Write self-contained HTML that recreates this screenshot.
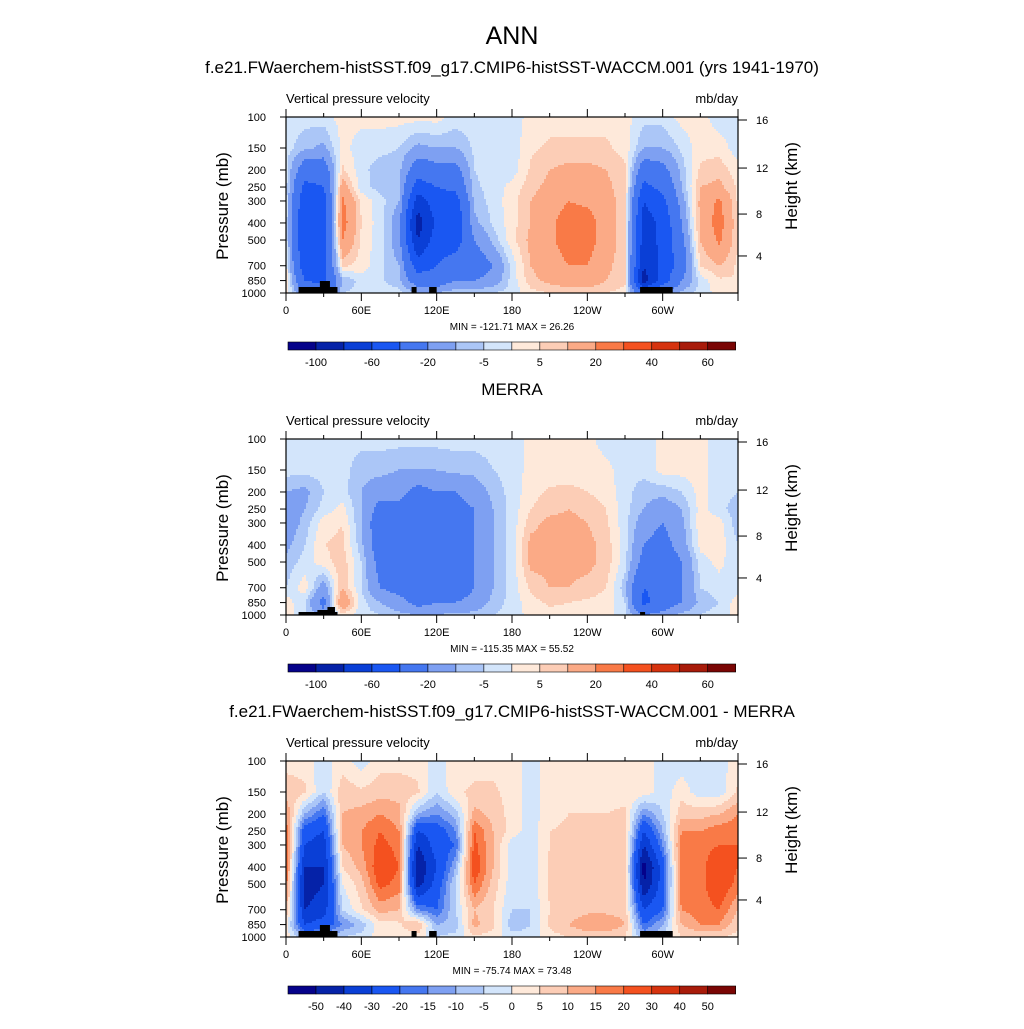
<!DOCTYPE html>
<html><head><meta charset="utf-8">
<style>
body{margin:0;background:#fff;}
svg text{font-family:"Liberation Sans",sans-serif;fill:#000;}
</style></head>
<body>
<svg id="fig" width="1024" height="1024" xmlns="http://www.w3.org/2000/svg">
<rect width="1024" height="1024" fill="#fff"/>
<text x="512" y="44" font-size="25" text-anchor="middle">ANN</text>
</svg>
<script>
// ---- data ----
const lons = [0,15,30,45,60,75,90,105,120,135,150,165,180,195,210,225,240,255,270,285,300,315,330,345,360];
const levels = [100,150,200,250,300,400,500,700,850,1000];
const colors = ["#05028a","#0522a8","#0a3fd6","#1a57f2","#4577f0","#7ea0f2","#abc6f7","#d3e5fb","#fee9da","#fccdb6","#fbaa86","#f97a47","#f4511f","#d6330f","#a81b0a","#7a0504"];
const bounds1 = [-100,-80,-60,-40,-20,-10,-5,0,5,10,20,30,40,50,60];
const bounds3 = [-50,-40,-30,-20,-15,-10,-5,0,5,10,15,20,30,40,50];
const cbLabels1 = ["-100","","-60","","-20","","-5","","5","","20","","40","","60"];
const cbLabels3 = ["-50","-40","-30","-20","-15","-10","-5","0","5","10","15","20","30","40","50"];
const xTickLabels = ["0","60E","120E","180","120W","60W"];
const yTickLabels = ["100","150","200","250","300","400","500","700","850","1000"];
const hTicks = [4,8,12,16];
const hTickPressures = [616,356,195,104];
const model = [
[-3,-3,-2,2,2,2,2,2,2,-2,-3,-3,-3,2,3,3,3,3,2,-3,-3,2,2,-3,-3],
[-3,-8,-12,2,-3,-3,-5,-12,-10,-10,-4,-3,-3,4,6,6,6,6,3,-10,-10,-4,3,3,-3],
[-3,-30,-30,6,-3,-8,-8,-30,-25,-25,-5,-3,-3,6,10,12,12,10,6,-30,-25,-8,6,8,2],
[-3,-45,-40,15,-3,-7,-8,-50,-40,-35,-6,-3,2,8,12,15,14,12,6,-45,-35,-10,10,12,4],
[-2,-55,-50,22,4,-3,-10,-70,-50,-50,-8,-3,3,10,15,20,18,14,6,-60,-45,-15,12,22,4],
[-2,-60,-50,25,5,-3,-15,-90,-55,-55,-12,-4,3,10,18,25,25,15,6,-70,-55,-20,12,25,5],
[-2,-60,-50,20,4,-3,-15,-80,-50,-50,-20,-8,3,12,18,25,25,15,6,-70,-55,-25,10,22,5],
[2,-55,-45,6,3,-4,-10,-50,-40,-30,-30,-20,-3,10,15,20,20,12,6,-80,-55,-30,5,10,4],
[5,-40,-45,-10,-3,-4,-8,-30,-30,-20,-20,-15,-3,8,12,15,15,10,6,-90,-50,-20,-3,4,5],
[3,-20,-30,-5,-3,-3,-3,-10,-10,-5,-5,-5,-3,3,5,6,6,5,3,-40,-20,-8,-3,2,3]];
const merra = [
[-3,-3,-3,-3,-3,-3,-3,-3,-3,-3,-3,-3,-3,2,2,2,2,-3,-3,-3,2,2,2,-3,-3],
[-3,-3,-3,-3,-8,-8,-10,-10,-10,-8,-8,-5,-3,2,2,3,3,2,-3,-3,2,2,2,-3,-3],
[-10,-12,-5,-3,-10,-15,-15,-25,-20,-20,-15,-8,-3,3,6,6,5,3,-3,-8,-8,-5,2,-3,-5],
[-15,-10,-3,2,-10,-25,-25,-30,-20,-25,-20,-10,-3,5,8,10,8,5,-3,-10,-15,-10,2,-3,-8],
[-15,-8,3,5,-10,-30,-30,-25,-20,-25,-20,-10,-3,8,12,12,10,6,-3,-15,-20,-12,3,2,-8],
[-12,-5,5,6,-8,-30,-30,-30,-25,-30,-20,-10,-3,12,12,12,12,8,-3,-20,-25,-15,2,3,-5],
[-8,-3,3,8,-5,-25,-30,-40,-30,-35,-20,-10,-3,12,12,12,12,8,-3,-25,-30,-20,-3,2,-5],
[-5,3,-15,10,-5,-20,-25,-30,-25,-30,-20,-10,-3,6,10,10,8,5,-8,-40,-35,-20,-5,-3,-3],
[3,-5,-25,20,-3,-10,-15,-25,-20,-20,-15,-8,-3,3,6,5,4,3,-5,-45,-30,-20,-8,-5,3],
[2,-3,-15,3,-3,-5,-8,-10,-10,-8,-8,-5,-3,2,3,3,3,2,-3,-20,-15,-8,-5,-3,2]];
const diff = [
[3,3,-3,3,-3,3,3,3,-3,3,3,3,3,-3,3,3,3,3,3,3,-3,-3,-3,-3,3],
[8,6,-5,8,6,8,8,6,-5,4,6,6,3,-3,3,3,3,3,3,3,-3,3,-3,-3,6],
[15,-10,-20,10,12,15,12,-10,-15,-8,12,8,3,-3,3,5,5,5,6,-15,-5,8,8,10,15],
[18,-25,-30,12,15,20,15,-30,-25,-15,20,10,3,-3,5,6,8,6,8,-30,-10,15,15,18,18],
[20,-30,-35,10,15,22,18,-40,-25,-20,22,10,-3,-3,5,6,8,6,8,-40,-15,18,18,20,20],
[20,-40,-40,5,12,25,20,-50,-30,-10,25,10,-3,-3,6,8,6,8,8,-55,-25,20,18,25,20],
[18,-45,-40,0,8,22,18,-45,-25,-5,20,8,-3,-3,6,8,8,8,8,-50,-25,20,18,25,18],
[10,-40,-35,-5,4,12,10,-15,-20,-5,10,5,-5,-5,5,6,8,8,8,-30,-20,15,18,20,10],
[3,-30,-25,-15,-8,3,4,10,-10,-8,12,6,-8,-5,6,10,15,15,10,-20,-10,10,15,15,6],
[3,-10,-10,-5,-3,3,3,3,-5,-3,4,3,-3,-3,3,5,6,6,5,-10,-5,5,6,6,3]];

const NS="http://www.w3.org/2000/svg";
const svg=document.getElementById('fig');
const PX=286, PW=452, PH=176;
function mk(tag,attrs,parent){const e=document.createElementNS(NS,tag);for(const k in attrs)e.setAttribute(k,attrs[k]);(parent||svg).appendChild(e);return e;}
function txt(x,y,s,size,anchor,parent){const t=mk('text',{x:x,y:y,'font-size':size,'text-anchor':anchor||'start'},parent);t.textContent=s;return t;}
function xScale(lon){return PX+lon/360*PW;}
function yScale(top,p){return top+Math.log10(p/100)*PH;}
function sample(grid,lon,p){
  let i=0;while(i<lons.length-2&&lon>lons[i+1])i++;
  const fx=Math.min(1,Math.max(0,(lon-lons[i])/(lons[i+1]-lons[i])));
  const lp=Math.log10(p);let j=0;while(j<levels.length-2&&p>levels[j+1])j++;
  const fy=Math.min(1,Math.max(0,(lp-Math.log10(levels[j]))/(Math.log10(levels[j+1])-Math.log10(levels[j]))));
  const a=grid[j][i]*(1-fx)+grid[j][i+1]*fx, b=grid[j+1][i]*(1-fx)+grid[j+1][i+1]*fx;
  return a*(1-fy)+b*fy;
}
function colorIdx(v,b){let k=0;while(k<b.length&&v>=b[k])k++;return k;}

function panel(top,grid,bounds,cbL,title,minmax,topo){
  const g=mk('g',{});
  
  
  if(title){const t=txt(512,top-44,title,17,'middle',g);}
  const l1=txt(PX,top-14,'Vertical pressure velocity',13,'start',g);
  const l2=txt(738,top-14,'mb/day',13,'end',g);
  const fg=mk('g',{},g);
  
  
  const S=2;
  for(let yy=0;yy<PH;yy+=S){
    const p=100*Math.pow(10,(yy+S/2)/PH);
    let runStart=0,runC=-1;
    for(let xx=0;xx<=PW;xx+=S){
      let c=-2;
      if(xx<PW){const lon=(xx+S/2)/PW*360;c=colorIdx(sample(grid,lon,p),bounds);}
      if(c!==runC){
        if(runC>=0){const r=mk('rect',{x:PX+runStart,y:top+yy,width:xx-runStart+0.5,height:S+0.5,fill:colors[runC]},fg);
          
          }
        runStart=xx;runC=c;
      }
    }
  }
  topo.forEach(b=>{const r=mk('rect',{x:xScale(b[0]),y:top+PH-b[2],width:xScale(b[1])-xScale(b[0]),height:b[2],fill:'#000'},g);
    
    });
  const fr=mk('rect',{x:PX,y:top,width:PW,height:PH,fill:'none',stroke:'#000','stroke-width':1.2},g);
  
  for(let lon=0;lon<=360;lon+=30){
    const x=xScale(lon),L=lon%60===0?8:4;
    mk('line',{x1:x,x2:x,y1:top+PH,y2:top+PH+L,stroke:'#000'},g);
    mk('line',{x1:x,x2:x,y1:top,y2:top-L,stroke:'#000'},g);
  }
  xTickLabels.forEach((s,k)=>{const t=txt(xScale(k*60),top+PH+21,s,11,'middle',g);});
  levels.forEach((p,k)=>{const y=yScale(top,p);mk('line',{x1:PX-6,x2:PX,y1:y,y2:y,stroke:'#000'},g);
    const t=txt(PX-20,y+4,yTickLabels[k],11,'end',g);});
  hTicks.forEach((h,k)=>{const y=yScale(top,hTickPressures[k]);mk('line',{x1:738,x2:747,y1:y,y2:y,stroke:'#000'},g);
    const t=txt(756,y+4,String(h),11,'start',g);});
  const yt=txt(0,0,'Pressure (mb)',17,'middle',g);yt.setAttribute('transform',`translate(228,${top+89}) rotate(-90)`);
  
  const ht=txt(0,0,'Height (km)',17,'middle',g);ht.setAttribute('transform',`translate(797,${top+69}) rotate(-90)`);
  
  const mm=txt(512,top+213,minmax,10,'middle',g);
  const cy=top+225,cx=288,cw=(735.7-288)/16;
  colors.forEach((c,k)=>{const r=mk('rect',{x:cx+k*cw,y:cy,width:cw,height:8,fill:c,stroke:'#000','stroke-width':0.6},g);
    });
  cbL.forEach((s,k)=>{if(!s)return;const t=txt(cx+(k+1)*cw,cy+24,s,11,'middle',g);});
}
const topoA=[[10,41,6],[27,35,12],[100,104,6],[114,120,6],[282,308,6]];
const topoB=[[10,41,3],[25,37,5],[33,39,8],[282,286,3]];
panel(117,model,bounds1,cbLabels1,'f.e21.FWaerchem-histSST.f09_g17.CMIP6-histSST-WACCM.001 (yrs 1941-1970)','MIN = -121.71  MAX =  26.26',topoA);
panel(439,merra,bounds1,cbLabels1,'MERRA','MIN = -115.35  MAX =  55.52',topoB);
panel(761,diff,bounds3,cbLabels3,'f.e21.FWaerchem-histSST.f09_g17.CMIP6-histSST-WACCM.001 - MERRA','MIN = -75.74  MAX =  73.48',topoA);
</script>
</body></html>
